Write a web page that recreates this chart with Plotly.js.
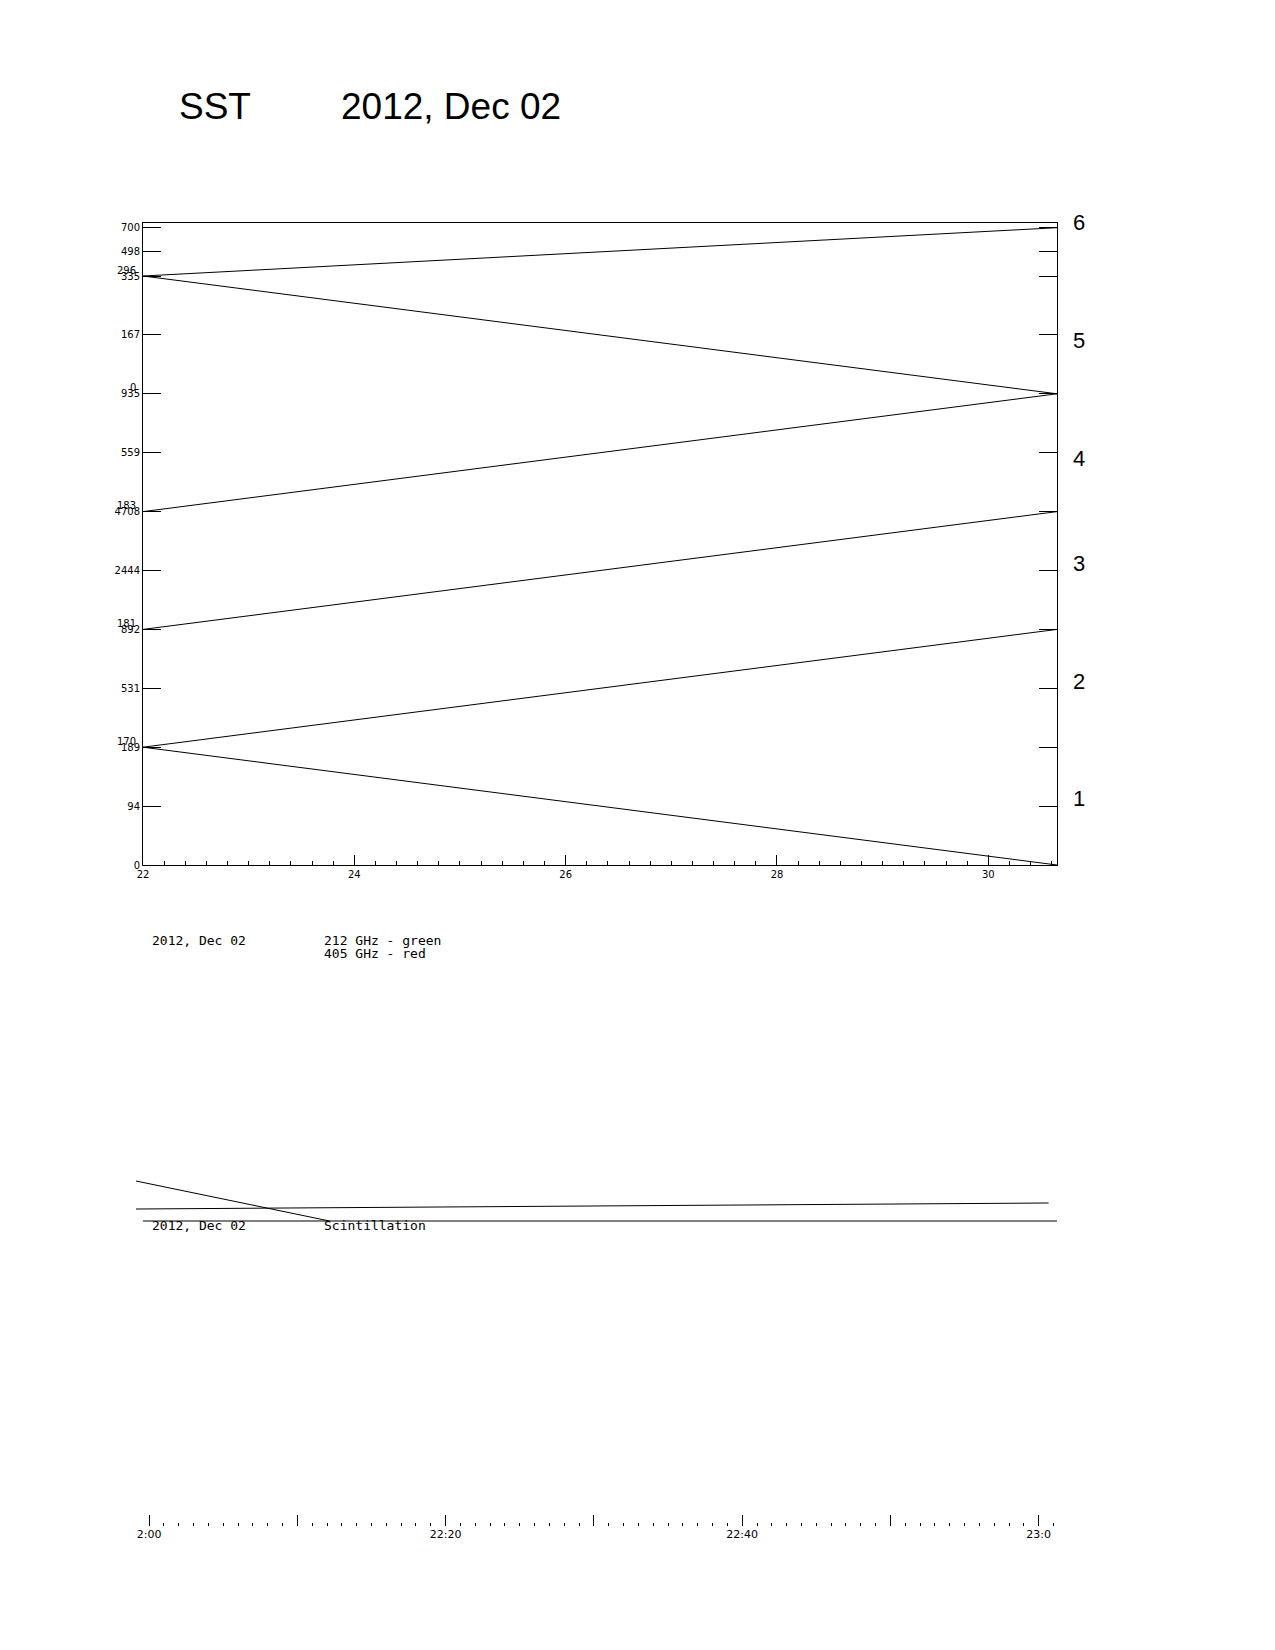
<!DOCTYPE html>
<html><head><meta charset="utf-8">
<script src="https://cdn.plot.ly/plotly-3.0.1.min.js"></script>
<style>body{margin:0;background:#fff}</style></head>
<body><div id="chart" style="width:1275px;height:1650px"></div>
<script>
// band-normalised traces of the six channels (band k spans k-1..k)
const xStart = 22, xEnd = 30.65;
const lineStartY = [5, 5, 3, 2, 1, 1];
const lineEndY = [5.41, 4, 4, 3, 2, 0];

// left-axis tick labels (lower value of each band boundary on the tick, upper value above it)
const tickVals = [0, 0.5, 1, 1.5, 2, 2.5, 3, 3.5, 4, 4.5, 5, 5.21, 5.41];
const tickText = ['0', '94', '189', '531', '892', '2444', '4708', '559', '935', '167', '335', '498', '700'];
const upperVals = [1, 2, 3, 4, 5];
const upperText = ['170', '181', '183', '0', '296'];
const bandLabels = ['1', '2', '3', '4', '5', '6'];

// scintillation panel (relative units) and time axis
const scintX = [['2012-12-02 21:59:07', '2012-12-02 22:12:10'],
                ['2012-12-02 21:59:07', '2012-12-02 23:00:40'],
                ['2012-12-02 21:59:35', '2012-12-02 23:01:14']];
const scintY = [[58, 18], [30, 36], [18, 18]];
const timeTicks = ['2012-12-02 22:00', '2012-12-02 22:10', '2012-12-02 22:20', '2012-12-02 22:30',
                   '2012-12-02 22:40', '2012-12-02 22:50', '2012-12-02 23:00'];
const timeText = ['2:00', '', '22:20', '', '22:40', '', '23:0'];

const px = (x) => x / 1275, py = (y) => 1 - y / 1650;
const ink = '#000';

const traces = lineStartY.map((y0, i) => ({
  x: [xStart, xEnd], y: [y0, lineEndY[i]], mode: 'lines',
  line: { color: ink, width: 1 }, xaxis: 'x', yaxis: 'y', hoverinfo: 'skip',
}));
scintX.forEach((xs, i) => traces.push({
  x: xs, y: scintY[i], mode: 'lines', line: { color: ink, width: 1 },
  xaxis: 'x2', yaxis: 'y2', hoverinfo: 'skip',
}));

const mono = 'DejaVu Sans Mono, monospace';
const bandY = [798, 681, 563, 444, 326, 208];
const annotations = bandLabels.map((t, i) => ({
  text: t, x: px(1087), y: py(bandY[i]), xref: 'paper', yref: 'paper',
  showarrow: false, font: { size: 22, color: ink, family: 'Liberation Sans, Arial' },
}));
upperVals.forEach((v, i) => annotations.push({
  text: upperText[i], x: px(138), y: v + 0.05, xref: 'paper', yref: 'y', xanchor: 'right',
  showarrow: false, font: { size: 10, color: ink },
}));
const txt = (t, x, y, size, fam) => annotations.push({
  text: t, x: px(x), y: py(y), xref: 'paper', yref: 'paper', xanchor: 'left',
  showarrow: false, font: { size, color: ink, family: fam },
});
txt('SST', 177, 84, 37, 'Liberation Sans, Arial');
txt('2012, Dec 02', 339, 84, 37, 'Liberation Sans, Arial');
txt('2012, Dec 02', 150, 940, 13, mono);
txt('212 GHz - green', 322, 940, 13, mono);
txt('405 GHz - red', 322, 953, 13, mono);
txt('2012, Dec 02', 150, 1235, 13, mono);
txt('Scintillation', 322, 1235, 13, mono);

const layout = {
  width: 1275, height: 1650, margin: { l: 0, r: 0, t: 0, b: 0 },
  paper_bgcolor: '#fff', plot_bgcolor: '#fff', showlegend: false,
  font: { family: 'DejaVu Sans, sans-serif', size: 10, color: ink },
  xaxis: {
    domain: [px(143), px(1057)], range: [xStart, xEnd], anchor: 'y',
    tickvals: [22, 24, 26, 28, 30], ticks: 'inside', ticklen: 10, tickcolor: ink,
    minor: { dtick: 0.2, ticks: 'inside', ticklen: 4, tickcolor: ink },
    showgrid: false, zeroline: false, showline: true, linecolor: ink, mirror: true,
    tickfont: { size: 10 },
  },
  yaxis: {
    domain: [py(865), py(223)], range: [0, 5.45], anchor: 'x',
    tickvals: tickVals, ticktext: tickText, ticks: 'inside', ticklen: 18, tickcolor: ink,
    showgrid: false, zeroline: false, showline: true, linecolor: ink, mirror: 'ticks',
    tickfont: { size: 10 },
  },
  xaxis2: {
    type: 'date', domain: [px(136), px(1057)],
    range: ['2012-12-02 21:59:07', '2012-12-02 23:01:14'],
    anchor: 'free', position: py(1526),
    tickvals: timeTicks, ticktext: timeText, ticks: 'inside', ticklen: 11, tickcolor: ink,
    minor: { dtick: 60000, ticks: 'inside', ticklen: 3, tickcolor: ink },
    showgrid: false, zeroline: false, showline: false, tickfont: { size: 11 },
  },
  yaxis2: {
    domain: [py(1239), py(1169)], range: [0, 70], anchor: 'x2',
    visible: false, showgrid: false, zeroline: false,
  },
  annotations,
};

Plotly.newPlot('chart', traces, layout, { displayModeBar: false, staticPlot: true });
</script></body></html>
